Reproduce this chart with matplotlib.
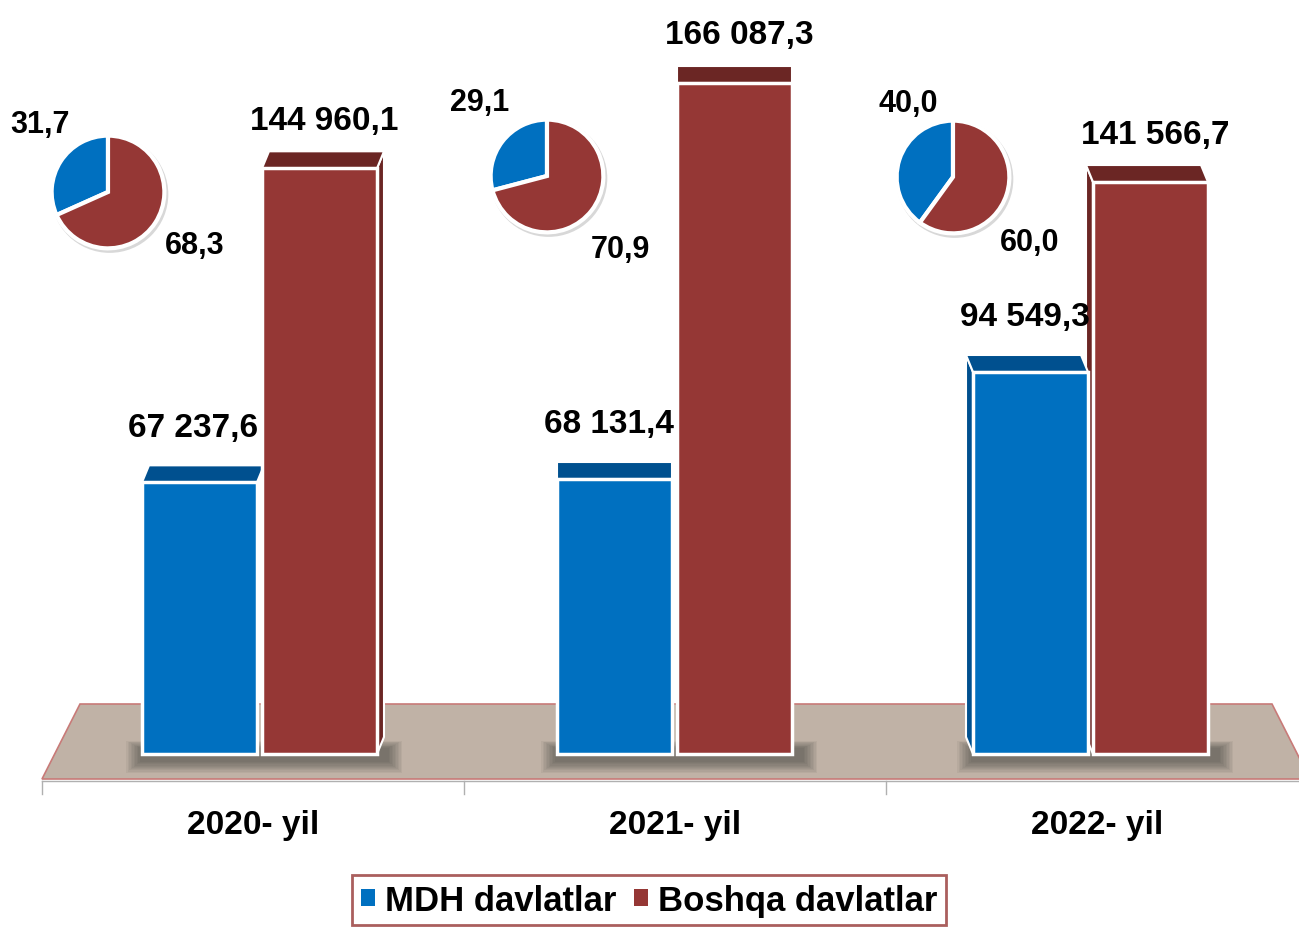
import matplotlib.pyplot as plt
from matplotlib.patches import Polygon, Rectangle, Patch, Circle

years = ["2020- yil", "2021- yil", "2022- yil"]
mdh = [67237.6, 68131.4, 94549.3]
boshqa = [144960.1, 166087.3, 141566.7]
mdh_labels = ["67 237,6", "68 131,4", "94 549,3"]
boshqa_labels = ["144 960,1", "166 087,3", "141 566,7"]
mdh_share = [31.7, 29.1, 40.0]
boshqa_share = [68.3, 70.9, 60.0]
mdh_share_labels = ["31,7", "29,1", "40,0"]
boshqa_share_labels = ["68,3", "70,9", "60,0"]

BLUE = "#0070c0"
RED = "#953735"
BLUE_DARK = "#00508f"
RED_DARK = "#6b2624"
FLOOR = "#c0b2a6"

plt.rcParams['font.family'] = ['Liberation Sans', 'DejaVu Sans']
plt.rcParams['font.weight'] = 'bold'

W, H = 1299, 928
BASE = 755          # pixel row of the bar bottoms
U = 247.5           # data units per pixel

fig = plt.figure(figsize=(W / 100, H / 100), dpi=100)
ax = fig.add_axes([0, 0, 1, 1])
ax.set_xlim(0, W)
ax.set_ylim(-(H - BASE) * U, BASE * U)
ax.axis('off')


def py(p):
    # pixel offset -> data units
    return p * U


# floor
floor = Polygon([(80, py(50)), (1272, py(50)), (1310, py(-25)), (42, py(-25))],
                closed=True, facecolor=FLOOR, edgecolor="#c87a78", lw=1.2, zorder=1)
ax.add_patch(floor)
ax.plot([42, W], [py(-27), py(-27)], color="#b0b0b0", lw=1, zorder=1)
for xt in [42, 464, 886]:
    ax.plot([xt, xt], [py(-27), py(-40)], color="#b0b0b0", lw=1, zorder=1)

centers = [259, 674, 1090]
bw = 115
skews = [7, 0, -7]
depth = 17

for i, c in enumerate(centers):
    xb = c - 2 - bw / 2
    xr = c + 3 + bw / 2
    # soft shadow
    for k in range(10):
        ax.add_patch(Rectangle((xb - bw / 2 - 2 - k * 1.5, py(-8 - k * 1.2)),
                               (xr - xb) + bw + 14 + k * 3, py(14 + k * 2.0),
                               facecolor="#2e2e2e", alpha=0.06, lw=0, zorder=2))
    s = skews[i]
    d = py(depth)
    for x0, v, top_col in [(xb, mdh[i], BLUE_DARK), (xr, boshqa[i], RED_DARK)]:
        l, r = x0 - bw / 2, x0 + bw / 2
        if s > 0 and x0 == xr:
            ax.add_patch(Polygon([(r, v), (r + s, v + d), (r + s, d), (r, 0)],
                                 facecolor=RED_DARK, edgecolor="white", lw=1.5, zorder=3))
        if s < 0:
            ax.add_patch(Polygon([(l, v), (l + s, v + d), (l + s, d), (l, 0)],
                                 facecolor=top_col, edgecolor="white", lw=1.5, zorder=3))
        ax.add_patch(Polygon([(l, v), (r, v), (r + s, v + d), (l + s, v + d)],
                             facecolor=top_col, edgecolor="white", lw=1.5, zorder=4))

    ax.bar(xb, mdh[i], width=bw, color=BLUE, edgecolor="white", lw=2.5, zorder=5)
    ax.bar(xr, boshqa[i], width=bw, color=RED, edgecolor="white", lw=2.5, zorder=5)

    ax.text(xb - 6, mdh[i] + py(55), mdh_labels[i], ha='center', va='center',
            fontsize=24, fontweight='bold', zorder=6)
    ax.text(xr + 5, boshqa[i] + py(48), boshqa_labels[i], ha='center', va='center',
            fontsize=24, fontweight='bold', zorder=6)
    ax.text([253, 675, 1097][i], py(BASE - 826), years[i], ha='center', va='center',
            fontsize=24, fontweight='bold')

# pies
pie_centers = [(108, 193), (547, 177), (953, 178)]
pie_r = 62
lab_a = [(40, 125), (480, 103), (908, 104)]
lab_b = [(195, 246), (620, 250), (1030, 243)]
for i, (cx, cy) in enumerate(pie_centers):
    pax = fig.add_axes([(cx - pie_r) / W, 1 - (cy + pie_r) / H, 2 * pie_r / W, 2 * pie_r / H])
    pax.add_patch(Circle((0.03, -0.04), 1.04, facecolor="#d8d8d8", lw=0, zorder=0))
    pax.pie([mdh_share[i], boshqa_share[i]], colors=[BLUE, RED], startangle=90,
            counterclock=True, radius=1.0,
            wedgeprops=dict(edgecolor="white", linewidth=3))
    pax.set_xlim(-1.1, 1.1)
    pax.set_ylim(-1.1, 1.1)
    pax.set_aspect('equal')
    fig.text(lab_a[i][0] / W, 1 - lab_a[i][1] / H, mdh_share_labels[i],
             ha='center', va='center', fontsize=22, fontweight='bold')
    fig.text(lab_b[i][0] / W, 1 - lab_b[i][1] / H, boshqa_share_labels[i],
             ha='center', va='center', fontsize=22, fontweight='bold')

handles = [Patch(facecolor=BLUE, label="MDH davlatlar"),
           Patch(facecolor=RED, label="Boshqa davlatlar")]
leg = fig.legend(handles=handles, loc='upper left', bbox_to_anchor=(352 / W, 1 - 876 / H),
                 ncol=2, fontsize=25, frameon=True, fancybox=False,
                 handlelength=0.4, handleheight=0.4, handletextpad=0.3,
                 columnspacing=0.5, borderpad=0.25, borderaxespad=0)
leg.get_frame().set_edgecolor(RED)
leg.get_frame().set_linewidth(2)

fig.savefig("out.png", dpi=100)
